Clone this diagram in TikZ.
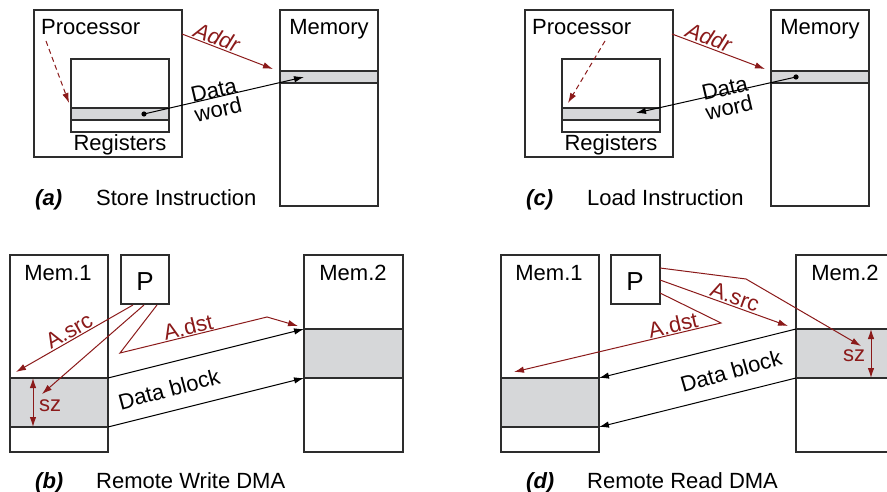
\documentclass[tikz,border=0pt]{standalone}
\usepackage{fontspec}
\setmainfont{Liberation Sans}
\usetikzlibrary{arrows.meta,calc}
\definecolor{dred}{RGB}{139,26,26}
\definecolor{bandgray}{RGB}{214,215,217}
\definecolor{edge}{RGB}{45,45,45}
\tikzset{
  box/.style={draw=edge, line width=1.2pt, fill=white, anchor=north west, inner sep=0pt, outer sep=0pt},
  bandbox/.style={box, fill=bandgray},
  lbl/.style={font=\fontsize{22}{20}\selectfont, inner sep=0pt},
  plbl/.style={font=\fontsize{26}{26}\selectfont, inner sep=0pt},
  rlbl/.style={lbl, text=dred},
  captxt/.style={font=\fontsize{22}{20}\selectfont\bfseries\itshape, inner sep=0pt, anchor=base west},
  ctl/.style={draw=dred, line width=1pt, -{Latex[length=10pt,width=6.5pt]}},
  dbl/.style={draw=dred, line width=1pt, {Latex[length=10pt,width=6.5pt]}-{Latex[length=10pt,width=6.5pt]}},
  dat/.style={draw=black, line width=1pt, -{Latex[length=10pt,width=6.5pt]}},
  dashd/.style={ctl, dash pattern=on 5pt off 3.5pt},
}
\begin{document}
\begin{tikzpicture}[x=1pt,y=-1pt]
\useasboundingbox (0,0) rectangle (887,492);
\clip (0,0) rectangle (887,492);
% ---------- (a) Store Instruction ----------
\node[box, minimum width=148, minimum height=147] (procA) at (34,10) {};
\node[box, minimum width=98, minimum height=73] (regA) at (71,59) {};
\node[bandbox, minimum width=98, minimum height=12] (rbandA) at (71,108) {};
\node[box, minimum width=98, minimum height=196] (memA) at (280,10) {};
\node[bandbox, minimum width=98, minimum height=12] (mbandA) at (280,71) {};
\node[lbl, anchor=base west] (procAt) at (41,35) {Processor};
\node[lbl, anchor=base] (memAt) at (329,35) {Memory};
\node[lbl, anchor=base] (regAt) at (120,151) {Registers};
\coordinate (addrA0) at (182,34);
\coordinate (addrA1) at (273,69);
\draw[ctl] (addrA0) -- (addrA1);
\node[rlbl, rotate=-21] (addrAt) at (217,37) {\itshape Addr};
\coordinate (dshA0) at (46,41);
\coordinate (dshA1) at (69,103);
\draw[dashd] (dshA0) -- (dshA1);
\coordinate (dotA) at (144,114);
\coordinate (wA1) at (304,77);
\fill (dotA) circle (2.6);
\draw[dat] (dotA) -- (wA1);
\node[lbl, rotate=13, align=center] (wAt) at (216,100) {Data\\word};
\node[captxt] (capA) at (35,206) {(a)};
\node[lbl, anchor=base west] (capAt) at (96,206) {Store Instruction};
% ---------- (c) Load Instruction ----------
\node[box, minimum width=148, minimum height=147] (procC) at (525,10) {};
\node[box, minimum width=98, minimum height=73] (regC) at (562,59) {};
\node[bandbox, minimum width=98, minimum height=12] (rbandC) at (562,108) {};
\node[box, minimum width=98, minimum height=196] (memC) at (771,10) {};
\node[bandbox, minimum width=98, minimum height=12] (mbandC) at (771,71) {};
\node[lbl, anchor=base west] (procCt) at (532,35) {Processor};
\node[lbl, anchor=base] (memCt) at (820,35) {Memory};
\node[lbl, anchor=base] (regCt) at (611,151) {Registers};
\coordinate (addrC0) at (672,34);
\coordinate (addrC1) at (765,69);
\draw[ctl] (addrC0) -- (addrC1);
\node[rlbl, rotate=-21] (addrCt) at (709,37) {\itshape Addr};
\coordinate (dshC0) at (605,41);
\coordinate (dshC1) at (568,103);
\draw[dashd] (dshC0) -- (dshC1);
\coordinate (dotC) at (796,77);
\coordinate (wC1) at (636,113);
\fill (dotC) circle (2.6);
\draw[dat] (dotC) -- (wC1);
\node[lbl, rotate=13, align=center] (wCt) at (727,98) {Data\\word};
\node[captxt] (capC) at (526,206) {(c)};
\node[lbl, anchor=base west] (capCt) at (587,206) {Load Instruction};
% ---------- (b) Remote Write DMA ----------
\node[box, minimum width=98, minimum height=197] (m1B) at (10,255) {};
\node[bandbox, minimum width=98, minimum height=49] (b1B) at (10,378) {};
\node[box, minimum width=48, minimum height=49] (pB) at (121,255) {};
\node[box, minimum width=99, minimum height=197] (m2B) at (304,255) {};
\node[bandbox, minimum width=99, minimum height=49] (b2B) at (304,329) {};
\node[lbl, anchor=base] (m1Bt) at (58,280) {Mem.1};
\node[lbl, anchor=base] (m2Bt) at (353,280) {Mem.2};
\node[plbl, anchor=base] (pBt) at (145,290) {P};
\coordinate (srcB0) at (133,305);
\coordinate (srcB1) at (16,372);
\draw[ctl] (srcB0) -- (srcB1);
\node[rlbl, rotate=30] (srcBt) at (69,331) {A.src};
\coordinate (szB0) at (144,305);
\coordinate (szB1) at (42,394);
\draw[ctl] (szB0) -- (szB1);
\coordinate (dstB0) at (157,305);
\coordinate (dstBa) at (120,353);
\coordinate (dstBb) at (267,317);
\coordinate (dstB1) at (298,326);
\draw[ctl] (dstB0) -- (dstBa) -- (dstBb) -- (dstB1);
\node[rlbl, rotate=14] (dstBt) at (188,327) {A.dst};
\coordinate (szBt0) at (33,378);
\coordinate (szBt1) at (33,427);
\draw[dbl] (szBt0) -- (szBt1);
\node[rlbl] (szBt) at (50,406) {sz};
\draw[dat] (b1B.north east) -- (b2B.north west);
\draw[dat] (b1B.south east) -- (b2B.south west);
\node[lbl, rotate=15] (dbBt) at (169,389) {Data block};
\node[captxt] (capB) at (35,488) {(b)};
\node[lbl, anchor=base west] (capBt) at (96,488) {Remote Write DMA};
% ---------- (d) Remote Read DMA ----------
\node[box, minimum width=98, minimum height=197] (m1D) at (501,255) {};
\node[bandbox, minimum width=98, minimum height=49] (b1D) at (501,378) {};
\node[box, minimum width=49, minimum height=49] (pD) at (611,255) {};
\node[box, minimum width=98, minimum height=197] (m2D) at (796,255) {};
\node[bandbox, minimum width=98, minimum height=49] (b2D) at (796,329) {};
\node[lbl, anchor=base] (m1Dt) at (549,280) {Mem.1};
\node[lbl, anchor=base] (m2Dt) at (845,280) {Mem.2};
\node[plbl, anchor=base] (pDt) at (635,290) {P};
\coordinate (srcD0) at (660,280);
\coordinate (srcD1) at (788,326);
\draw[ctl] (srcD0) -- (srcD1);
\node[rlbl, rotate=-20] (srcDt) at (735,297) {A.src};
\coordinate (szD0) at (660,268);
\coordinate (szDa) at (746,279);
\coordinate (szD1) at (861,346);
\draw[ctl] (szD0) -- (szDa) -- (szD1);
\coordinate (dstD0) at (660,293);
\coordinate (dstDa) at (721,323);
\coordinate (dstD1) at (514,372);
\draw[ctl] (dstD0) -- (dstDa) -- (dstD1);
\node[rlbl, rotate=13] (dstDt) at (673,325) {A.dst};
\coordinate (szDt0) at (871,329);
\coordinate (szDt1) at (871,378);
\draw[dbl] (szDt0) -- (szDt1);
\node[rlbl] (szDt) at (854,356) {sz};
\draw[dat] (b2D.north west) -- (b1D.north east);
\draw[dat] (b2D.south west) -- (b1D.south east);
\node[lbl, rotate=16] (dbDt) at (731,371) {Data block};
\node[captxt] (capD) at (526,488) {(d)};
\node[lbl, anchor=base west] (capDt) at (587,488) {Remote Read DMA};
\end{tikzpicture}
\end{document}
